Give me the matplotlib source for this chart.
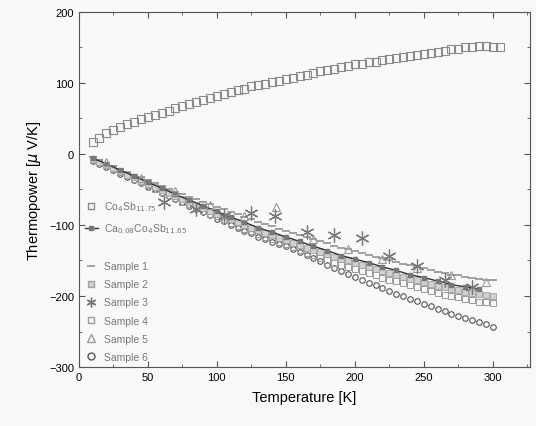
import matplotlib.pyplot as plt
import numpy as np
from matplotlib.lines import Line2D
from matplotlib.ticker import MultipleLocator

# -----------------------------------------------------------
# data
# -----------------------------------------------------------
# Co4Sb11.75 (p-type), every 5 K
T_co = np.arange(10, 306, 5)
S_co = [17, 23, 29, 34, 38, 42, 45, 49, 52, 55, 58, 61, 64, 67, 70, 73,
        76, 79, 82, 85, 87, 90, 92, 95, 97, 99, 101, 103, 105, 107, 109,
        111, 114, 116, 118, 120, 122, 124, 126, 127, 129, 130, 132, 133,
        135, 136, 138, 139, 141, 142, 144, 145, 147, 148, 150, 151, 152,
        152, 151, 150]

# n-type samples, every 5 K
T_n = np.arange(10, 301, 5)
S_sample1 = [-5, -9, -13, -17, -21, -25, -29, -33, -37, -41, -45, -49, -53,
             -56, -60, -64, -68, -71, -75, -78, -82, -85, -89, -92, -96,
             -99, -102, -105, -108, -111, -114, -117, -120, -123, -126,
             -129, -132, -134, -137, -140, -142, -145, -147, -150, -152,
             -155, -157, -159, -161, -164, -166, -168, -170, -171, -173,
             -175, -176, -177, -178]
S_sample2 = [-7, -11, -15, -20, -24, -29, -33, -38, -42, -47, -51, -55, -59,
             -63, -67, -72, -76, -80, -84, -88, -92, -96, -100, -104, -107,
             -111, -114, -118, -121, -125, -128, -132, -135, -138, -141,
             -145, -148, -150, -153, -156, -159, -162, -165, -168, -170,
             -173, -176, -178, -180, -183, -186, -188, -190, -192, -194,
             -196, -197, -199, -200]
S_sample4 = [-8, -12, -16, -21, -25, -30, -35, -40, -44, -49, -53, -58, -62,
             -67, -71, -76, -80, -84, -88, -93, -97, -101, -105, -109, -113,
             -117, -120, -124, -127, -131, -135, -139, -142, -146, -149,
             -153, -156, -159, -162, -165, -168, -171, -174, -177, -179,
             -182, -185, -188, -190, -193, -196, -198, -200, -202, -204,
             -206, -208, -209, -210]
S_sample6 = [-10, -14, -19, -23, -28, -32, -37, -41, -46, -50, -55, -59, -64,
             -68, -73, -77, -82, -86, -91, -95, -100, -104, -108, -112, -117,
             -120, -124, -127, -130, -134, -138, -142, -147, -151, -156,
             -160, -165, -169, -173, -177, -181, -185, -189, -193, -197,
             -200, -204, -207, -211, -214, -218, -221, -225, -228, -231,
             -234, -237, -240, -243]

# Ca-filled sample (line), 10..290 K
T_ca = np.arange(10, 291, 10)
S_ca = [-6, -14, -23, -31, -40, -48, -57, -65, -73, -81, -89, -96, -104,
        -110, -117, -123, -130, -136, -143, -148, -153, -159, -164, -170,
        -174, -179, -184, -187, -190]

# sparse markers
T_sample3 = [62, 85, 105, 125, 142, 165, 185, 205, 225, 245, 265, 285]
S_sample3 = [-68, -78, -88, -83, -88, -110, -114, -119, -143, -158, -178, -188]
T_sample5 = [20, 45, 70, 95, 120, 143, 170, 195, 220, 245, 270, 295]
S_sample5 = [-12, -34, -52, -72, -88, -75, -120, -134, -148, -160, -170, -180]

label_co = r'Co$_4$Sb$_{11.75}$'
label_ca = r'Ca$_{0.08}$Co$_4$Sb$_{11.65}$'

# -----------------------------------------------------------
# plot
# -----------------------------------------------------------
plt.rcParams["font.family"] = "Liberation Sans"
fig = plt.figure(figsize=(5.36, 4.27), dpi=100, facecolor='#f9f9f9')
ax = fig.add_axes([0.147, 0.138, 0.842, 0.832])
ax.set_facecolor('#f9f9f9')

ax.plot(T_co, S_co, ls='none', marker='s', ms=6, mfc='none', mec='#8a8a8a',
        mew=0.8)

ax.plot(T_n, S_sample6, ls='none', marker='o', ms=4, mfc='none',
        mec='#555555', mew=0.8)
ax.plot(T_n, S_sample4, ls='none', marker='s', ms=5, mfc='none',
        mec='#9a9a9a', mew=0.7)
ax.plot(T_n, S_sample2, ls='none', marker='s', ms=4.5, mfc='#d0d0d0',
        mec='#a0a0a0', mew=0.6)
ax.plot(T_n, S_sample1, ls='none', marker='_', ms=6, mec='#8a8a8a', mew=1.1)
ax.plot(T_ca, S_ca, color='#333333', lw=1.0, marker='s', ms=3,
        mfc='#777777', mec='#777777')
ax.plot(T_sample5, S_sample5, ls='none', marker='^', ms=6, mfc='none',
        mec='#999999', mew=0.8)
ax.plot(T_sample3, S_sample3, ls='none', marker=(6, 2, 0), ms=10,
        mec='#777777', mew=0.9)

ax.set_xlim(0, 327)
ax.set_ylim(-300, 200)
ax.set_xticks([0, 50, 100, 150, 200, 250, 300])
ax.set_yticks([-300, -200, -100, 0, 100, 200])
ax.xaxis.set_minor_locator(MultipleLocator(25))
ax.yaxis.set_minor_locator(MultipleLocator(50))
ax.tick_params(which='both', direction='in', top=True, right=True,
               labelsize=8, colors='#555555', labelcolor='black')
ax.tick_params(which='major', length=4)
ax.tick_params(which='minor', length=2.5)
for sp in ax.spines.values():
    sp.set_color('#555555')
    sp.set_linewidth(0.8)

ax.set_xlabel('Temperature [K]', fontsize=10.5, labelpad=6)
ax.set_ylabel(r'Thermopower [$\mu$ V/K]', fontsize=10.5, labelpad=4)

# legend with blank spacer after the two reference compounds
handles = [
    Line2D([], [], ls='none', marker='s', ms=5, mfc='none', mec='#8a8a8a'),
    Line2D([], [], color='#333333', lw=1.0, marker='s', ms=3,
           mfc='#777777', mec='#777777'),
    Line2D([], [], ls='none', marker='none'),
    Line2D([], [], ls='none', marker='_', ms=6, mec='#8a8a8a', mew=1.1),
    Line2D([], [], ls='none', marker='s', ms=5, mfc='#d0d0d0',
           mec='#a0a0a0'),
    Line2D([], [], ls='none', marker=(6, 2, 0), ms=7, mec='#777777'),
    Line2D([], [], ls='none', marker='s', ms=5, mfc='none', mec='#9a9a9a'),
    Line2D([], [], ls='none', marker='^', ms=6, mfc='none', mec='#999999'),
    Line2D([], [], ls='none', marker='o', ms=5, mfc='none', mec='#555555'),
]
labels = [label_co, label_ca, '', 'Sample 1', 'Sample 2', 'Sample 3',
          'Sample 4', 'Sample 5', 'Sample 6']
leg = ax.legend(handles, labels, loc='upper left',
                bbox_to_anchor=(0.0, 0.49), frameon=False, fontsize=7.5,
                handlelength=1.2, handletextpad=0.6, labelspacing=0.78,
                borderaxespad=0.2)
for txt in leg.get_texts():
    txt.set_color('#777777')

fig.savefig('out.png', dpi=100, facecolor=fig.get_facecolor())
